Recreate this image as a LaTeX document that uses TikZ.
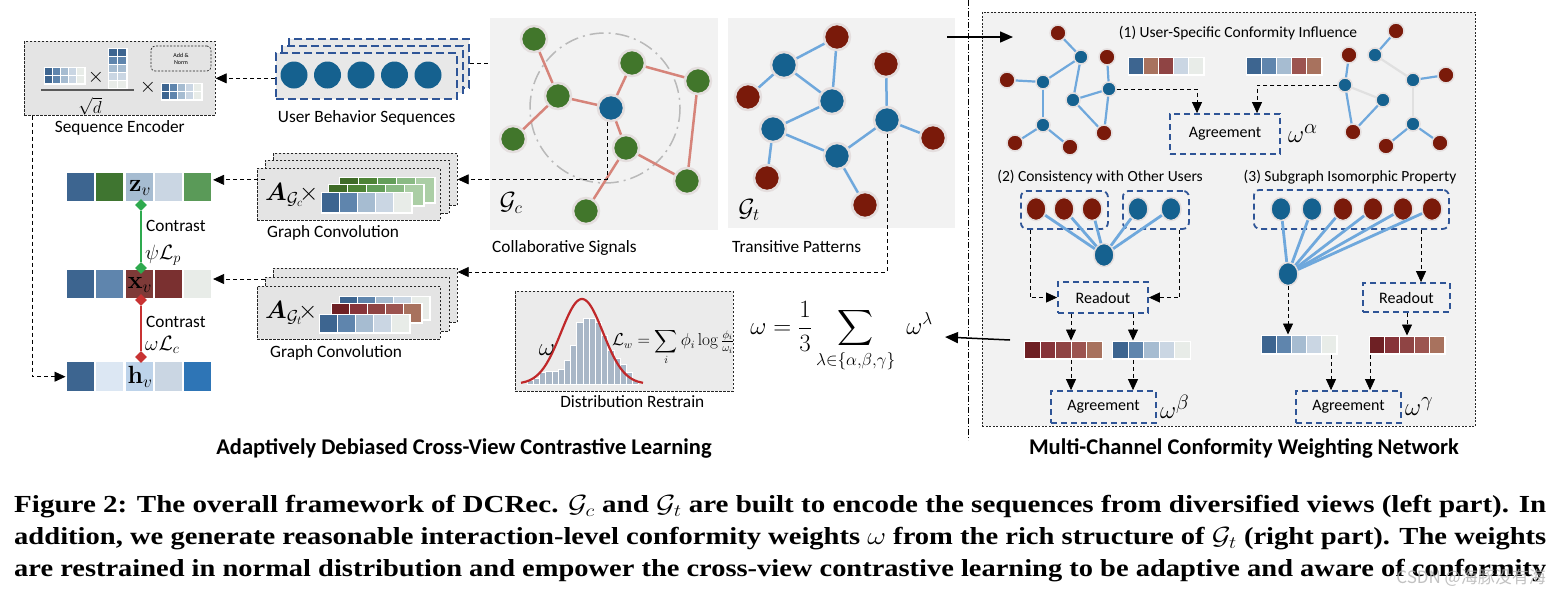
\documentclass[tikz,border=0pt]{standalone}
\usepackage{amsmath,amssymb,bm}
\usepackage[no-math]{fontspec}
\setmainfont{Carlito}
\newfontfamily\capfont{Liberation Serif}
\newfontfamily\cjkfont{Noto Sans CJK SC}
\usetikzlibrary{arrows.meta, shapes.geometric, positioning}

% colours
\definecolor{panelgray}{HTML}{F2F2F2}
\definecolor{boxgray}{HTML}{E4E4E4}
\definecolor{seqgray}{HTML}{E8E8E8}
\definecolor{nodeblue}{HTML}{15618F}
\definecolor{nodered}{HTML}{7A1A0A}
\definecolor{nodegreen}{HTML}{41762B}
\definecolor{halo}{HTML}{E4DEDE}
\definecolor{pinkedge}{HTML}{D6847A}
\definecolor{blueedge}{HTML}{6FA8DC}
\definecolor{ghostedge}{HTML}{E0E0E0}
\definecolor{boxblue}{HTML}{2F5597}
\definecolor{cA}{HTML}{3D6590}
\definecolor{cB}{HTML}{5F85AD}
\definecolor{cC}{HTML}{A6BCD1}
\definecolor{cD}{HTML}{CAD6E3}
\definecolor{cE}{HTML}{E8ECE8}
\definecolor{rA}{HTML}{6E2024}
\definecolor{rB}{HTML}{87343A}
\definecolor{rC}{HTML}{8F4444}
\definecolor{rD}{HTML}{9C5450}
\definecolor{rE}{HTML}{A8725E}
\definecolor{gA}{HTML}{3F6B27}
\definecolor{gB}{HTML}{4D8335}
\definecolor{gC}{HTML}{639E59}
\definecolor{gD}{HTML}{8ABA84}
\definecolor{gE}{HTML}{ABCEA5}
\definecolor{zG}{HTML}{3F7530}
\definecolor{zL}{HTML}{5A9A58}
\definecolor{xR}{HTML}{7E3A38}
\definecolor{xS}{HTML}{7A3030}
\definecolor{hA}{HTML}{DCE7F3}
\definecolor{hB}{HTML}{BDD3EA}
\definecolor{hC}{HTML}{2E75B6}
\definecolor{histbar}{HTML}{A9B7C7}
\definecolor{curvered}{HTML}{C0282A}
\definecolor{contrastgreen}{HTML}{2EAA4E}
\definecolor{contrastred}{HTML}{C83232}

% one row of five cells: name, x, y, cell width, cell height, gap, colours
\newcommand{\vecrow}[7]{%
  \node[fill=white, inner sep=0pt, anchor=north west,
        minimum width={5*(#4+#6)-#6+3}, minimum height={#5+3}] (#1) at ({#2-1.5},{#3-1.5}) {};
  \foreach \cc [count=\k from 0] in {#7}
    \fill[\cc] ({#2+\k*(#4+#6)},#3) rectangle ++(#4,#5);
}
% one layer of a stacked matrix: x, y, cell width, cell height, colours
\newcommand{\matlayer}[5]{%
  \fill[white] ({#1-1.5},{#2-1.5}) rectangle ({#1+5*(#3+1)+0.5},{#2+#4+1.5});
  \foreach \cc [count=\k from 0] in {#5}
    \fill[\cc] ({#1+\k*(#3+1)},#2) rectangle ++(#3,#4);
}

\tikzset{
  lbl/.style={font=\fontsize{17.3}{20}\selectfont, inner sep=0pt},
  boxlbl/.style={font=\fontsize{16}{19}\selectfont},
  sublbl/.style={font=\fontsize{15.5}{18}\selectfont, inner sep=0pt},
  boldtitle/.style={font=\bfseries\fontsize{22.5}{26}\selectfont, inner sep=0pt},
  panelbox/.style={fill=panelgray, inner sep=0pt, anchor=north west},
  blkbox/.style={fill=boxgray, draw=black!85, line width=0.7pt, dash pattern=on 2.5pt off 1.5pt, inner sep=0pt, anchor=north west},
  seqbox/.style={fill=seqgray, draw=boxblue, line width=2.4pt, dash pattern=on 8pt off 4pt, inner sep=0pt, anchor=north west},
  bluebox/.style={draw=boxblue, line width=1.8pt, dash pattern=on 6pt off 4pt, inner sep=0pt},
  grpbox/.style={bluebox, rounded corners=6pt, anchor=north west},
  dasharrow/.style={draw=black, line width=0.8pt, dash pattern=on 4pt off 3pt, -{Triangle[length=11pt,width=10pt]}},
  solidarrow/.style={draw=black, line width=1.5pt, -{Triangle[length=13pt,width=11pt]}},
  bignode/.style={circle, inner sep=0pt, minimum size=26pt, draw=halo, line width=2.5pt},
  gnode/.style={bignode, fill=nodegreen},
  bnode/.style={bignode, fill=nodeblue},
  rnode/.style={bignode, fill=nodered},
  rsmall/.style={circle, inner sep=0pt, minimum size=16pt, draw=halo, line width=1.5pt, fill=nodered},
  bsmall/.style={circle, inner sep=0pt, minimum size=14pt, draw=halo, line width=1.5pt, fill=nodeblue},
  rmid/.style={ellipse, inner sep=0pt, minimum width=20pt, minimum height=23pt, draw=halo, line width=1.5pt, fill=nodered},
  bmid/.style={ellipse, inner sep=0pt, minimum width=20pt, minimum height=23pt, draw=halo, line width=1.5pt, fill=nodeblue},
  pinkline/.style={pinkedge, line width=2.5pt},
  blueline/.style={blueedge, line width=2.5pt},
  contrastdia/.style={diamond, inner sep=0pt, minimum size=12pt},
  mathbig/.style={inner sep=0pt, font=\fontsize{24}{28}\selectfont},
  wlbl/.style={inner sep=0pt, font=\fontsize{28}{32}\selectfont},
}

\begin{document}
\begin{tikzpicture}[x=1pt, y=-1pt]
\useasboundingbox (0,0) rectangle (1560,598);
\fill[white] (0,0) rectangle (1560,598);

% Sequence encoder
\node[blkbox, minimum width=191pt, minimum height=74pt] (senc) at (24,41) {};
\fill[white] (43.5,66.5) rectangle (85.5,84.5);
\foreach \c [count=\i from 0] in {cA,cB,cC,cD,cE}
  \foreach \j in {0,1} \fill[\c] ({45+\i*8},{68+\j*8}) rectangle ++(7,7);
\node[inner sep=0pt, font=\fontsize{20}{22}\selectfont] (sx1) at (96,77) {$\times$};
\fill[white] (107.5,47.5) rectangle (127.5,90);
\foreach \c [count=\j from 0] in {cA,cB,cC,cD,cE}
  \foreach \i in {0,1} \fill[\c] ({109+\i*9},{49+\j*8}) rectangle ++(8,7);
\draw[black!65, line width=1.3pt] (41,90) -- (134,90);
\node[inner sep=0pt, font=\fontsize{19}{22}\selectfont] (sqd) at (90,106) {$\sqrt{d}$};
\node[inner sep=0pt, font=\fontsize{20}{22}\selectfont] (sx2) at (148,87) {$\times$};
\fill[white] (160.5,82.5) rectangle (202.5,100.5);
\foreach \c [count=\i from 0] in {cA,cB,cC,cD,cE}
  \foreach \j in {0,1} \fill[\c] ({162+\i*8},{84+\j*8}) rectangle ++(7,7);
\node[draw=black!85, rounded corners=4pt, dash pattern=on 2pt off 1.5pt, line width=0.7pt,
      minimum width=60pt, minimum height=25pt, inner sep=0pt, align=center,
      font=\fontsize{6}{7}\selectfont] (addnorm) at (181,58.5) {Add \&\\Norm};
\node[lbl, below=5pt of senc] (senclbl) {Sequence Encoder};

% User behavior sequences
\node[seqbox, minimum width=180pt, minimum height=49pt] (ubsback) at (288,38) {};
\node[seqbox, minimum width=181pt, minimum height=47pt] (ubsmid) at (281,45) {};
\node[seqbox, minimum width=181pt, minimum height=46pt] (ubs) at (275,52) {};
\foreach \i in {0,...,4}
  \node[circle, fill=nodeblue, minimum size=27pt, inner sep=0pt] (seq\i) at ({294+\i*33.5},75) {};
\node[lbl, below=10pt of ubs] (ubslbl) {User Behavior Sequences};
\draw[dasharrow] (ubs.west |- senc.east) -- (senc.east);
\draw[dasharrow] (ubsback.east) -- ++(47,0);

% Collaborative graph
\node[panelbox, minimum width=228pt, minimum height=212pt] (gcpanel) at (490,18) {};
\draw[gray!55, line width=1.5pt, dash pattern=on 14pt off 5pt on 2pt off 5pt] (605,108) circle[radius=75];
\node[gnode] (gn1) at (534,39) {};
\node[gnode] (gn2) at (558,96) {};
\node[gnode] (gn3) at (513,139) {};
\node[gnode] (gn4) at (632,63) {};
\node[gnode] (gn5) at (698,81) {};
\node[gnode] (gn6) at (626,148) {};
\node[gnode] (gn7) at (687,181) {};
\node[gnode] (gn8) at (586,211) {};
\node[bnode] (gcu) at (611,108) {};
\foreach \a/\b in {gn1/gn2, gn2/gn3, gn2/gcu, gcu/gn4, gn4/gn5, gn5/gn7, gcu/gn6, gn6/gn7, gn6/gn8}
  \draw[pinkline] (\a) -- (\b);
\node[inner sep=0pt, font=\fontsize{24}{28}\selectfont] (gclbl) at (511,203) {$\mathcal{G}_c$};
\node[lbl, anchor=north west] (gcname) at ([xshift=2pt, yshift=-10pt]gcpanel.south west) {Collaborative Signals};

% Transitive graph
\node[panelbox, minimum width=227pt, minimum height=210pt] (gtpanel) at (728,18) {};
\node[bnode] (tb1) at (784,65) {};
\node[bnode] (tb2) at (832,101) {};
\node[bnode] (tb3) at (773,129) {};
\node[bnode] (tb4) at (837,156) {};
\node[bnode] (tb5) at (887,120) {};
\node[rnode] (tr1) at (837,37) {};
\node[rnode] (tr2) at (748,97) {};
\node[rnode] (tr3) at (886,64) {};
\node[rnode] (tr4) at (933,138) {};
\node[rnode] (tr5) at (767,178) {};
\node[rnode] (tr6) at (865,205) {};
\foreach \a/\b in {tb1/tr1, tr1/tb2, tb1/tb2, tb1/tr2, tb2/tb3, tb3/tb4, tb3/tr5, tb4/tb5, tb4/tr6, tb5/tr3, tb5/tr4}
  \draw[blueline] (\a) -- (\b);
\node[inner sep=0pt, font=\fontsize{24}{28}\selectfont] (gtlbl) at (749,210) {$\mathcal{G}_t$};
\node[lbl, anchor=north west] (gtname) at ([xshift=4pt, yshift=-12pt]gtpanel.south west) {Transitive Patterns};

% Graph convolution stacks
\node[blkbox, minimum width=184pt, minimum height=52pt] (gcback) at (273,153) {};
\node[blkbox, minimum width=184pt, minimum height=53pt] (gcmid) at (265,160) {};
\node[blkbox, minimum width=183pt, minimum height=52pt] (gcfront) at (257,168) {};
\matlayer{340}{178}{18}{24}{gA,gB,gC,gD,gE}
\matlayer{329}{185}{18}{20}{gA,gB,gC,gD,gE}
\matlayer{322}{193}{17}{19}{cA,cB,cC,cD,cE}
\node[anchor=west, inner sep=0pt, font=\fontsize{24}{28}\selectfont] (gcA) at (265,195) {$\bm{A}_{\mathcal{G}_c}\!\times$};
\node[lbl, anchor=north west] (gcconv) at ([xshift=10pt, yshift=-5pt]gcfront.south west) {Graph Convolution};

\node[blkbox, minimum width=184pt, minimum height=54pt] (gtback) at (273,268) {};
\node[blkbox, minimum width=184pt, minimum height=54pt] (gtmid) at (265,277) {};
\node[blkbox, minimum width=183pt, minimum height=53pt] (gtfront) at (257,286) {};
\matlayer{340}{297}{17}{22}{cA,cB,cC,cD,cE}
\matlayer{332}{304}{17}{18}{rA,rB,rC,rD,rE}
\matlayer{320}{315}{17}{17}{cA,cB,cC,cD,cE}
\node[anchor=west, inner sep=0pt, font=\fontsize{24}{28}\selectfont] (gtA) at (265,313) {$\bm{A}_{\mathcal{G}_t}\!\times$};
\node[lbl, anchor=north west] (gtconv) at ([xshift=13pt, yshift=-6pt]gtfront.south west) {Graph Convolution};

\draw[dasharrow] ([xshift=-4pt]gcu.south) |- (gcback.east);
\draw[dasharrow] (tb5.south) |- ([yshift=-4pt]gtback.north east);

% Embedding rows and contrast
\vecrow{zrow}{67}{173}{27}{28}{2.3}{cA,zG,cC,cD,zL}
\vecrow{xrow}{67}{270}{27}{28}{2.3}{cA,cB,xR,xS,cE}
\vecrow{hrow}{67}{362}{27}{29}{2.3}{cA,hA,hB,cD,hC}
\node[mathbig] (zlbl) at (140,188) {$\mathbf{z}_v$};
\node[mathbig] (xlbl) at (140,285) {$\mathbf{x}_v$};
\node[mathbig] (hlbl) at (140,377) {$\mathbf{h}_v$};
\node[contrastdia, fill=contrastgreen] (zdia) at (141,205) {};
\node[contrastdia, fill=contrastgreen] (xdiag) at (141,268) {};
\node[contrastdia, fill=contrastred] (xdiar) at (141,300) {};
\node[contrastdia, fill=contrastred] (hdia) at (141,357) {};
\draw[contrastgreen, line width=2pt] (zdia) -- (xdiag);
\draw[contrastred, line width=2pt] (xdiar) -- (hdia);
\node[lbl, anchor=west] (ct1) at (146,226) {Contrast};
\node[anchor=west, inner sep=0pt, font=\fontsize{21}{24}\selectfont] (lp) at (145,255) {$\psi\mathcal{L}_p$};
\node[lbl, anchor=west] (ct2) at (146,322) {Contrast};
\node[anchor=west, inner sep=0pt, font=\fontsize{21}{24}\selectfont] (lc) at (145,345) {$\omega\mathcal{L}_c$};

\coordinate (gcin) at ([yshift=7pt]gcmid.west);
\coordinate (gtin) at ([yshift=-2pt]gtmid.north west);
\draw[dasharrow] (gcin) -- (gcin -| zrow.east);
\draw[dasharrow] (gtin) -- (gtin -| xrow.east);
\draw[dasharrow] ([xshift=8pt]senc.south west) |- (hrow.west);

% Distribution restrain
\node[blkbox, fill=boxgray!75, minimum width=218pt, minimum height=100pt] (dist) at (515,291) {};
\foreach \t [count=\i from 0] in {380,378,372,371,371,369,360,345,322,318,318,322,335,350,358,364,372,380}
  \filldraw[fill=histbar, draw=white, line width=0.4pt] ({527+\i*6.2},\t) rectangle ({527+\i*6.2+6.2},384);
\draw[curvered, line width=2.2pt, domain=521:643, samples=90]
  plot (\x, {384-85*exp(-((\x-582)/21)*((\x-582)/21)/2)});
\node[inner sep=0pt, font=\fontsize{30}{32}\selectfont] (distw) at (547,350) {$\omega$};
\node[inner sep=0pt, font=\fontsize{16}{18}\selectfont] (lw) at (673,347)
  {$\mathcal{L}_w=\displaystyle\sum_i\phi_i\log\tfrac{\phi_i}{\omega_i}$};
\node[lbl, below=4pt of dist, xshift=8pt] (distlbl) {Distribution Restrain};

% Weight average
\node[anchor=east, inner xsep=12pt, inner ysep=0pt, font=\fontsize{25}{29}\selectfont] (omega) at (945,337)
  {$\displaystyle\omega=\frac{1}{3}\sum_{\lambda\in\{\alpha,\beta,\gamma\}}\;\omega^{\lambda}$};

% Separator
\draw[black, line width=0.7pt, dash pattern=on 6pt off 2pt on 1pt off 2pt] (968,0) -- (968,440);

% Multi-channel conformity weighting network
\node[panelbox, draw=black!85, line width=0.7pt, dash pattern=on 2pt off 1.5pt,
      minimum width=493pt, minimum height=414pt] (mcpanel) at (982,12) {};
\coordinate (tpout) at (947,37);
\coordinate (mcin) at (1013,37);
\draw[solidarrow] (tpout) -- (mcin);
\coordinate (mcout) at (1010,340);
\draw[solidarrow] (mcout) -- (omega.east);

% (1) user-specific conformity influence
\node[sublbl] (h1) at (1238,33) {(1) User-Specific Conformity Influence};
\node[rsmall] (lr1) at (1058,33) {};
\node[rsmall] (lr2) at (1007,80) {};
\node[rsmall] (lr3) at (1107,57) {};
\node[rsmall] (lr4) at (1015,143) {};
\node[rsmall] (lr5) at (1070,147) {};
\node[rsmall] (lr6) at (1104,133) {};
\node[bsmall] (lb1) at (1081,57) {};
\node[bsmall] (lb2) at (1043,82) {};
\node[bsmall] (lb3) at (1073,100) {};
\node[bsmall] (lb4) at (1109,89) {};
\node[bsmall] (lb5) at (1043,125) {};
\foreach \a/\b in {lb1/lr1, lb1/lb2, lb2/lr2, lb2/lb5, lb5/lr4, lb5/lr5, lb1/lb3, lb3/lb4, lb4/lr3, lb3/lr6, lb4/lr6}
  \draw[blueedge, line width=2.2pt] (\a) -- (\b);
\node[rsmall] (or1) at (1396,31) {};
\node[rsmall] (or2) at (1349,55) {};
\node[rsmall] (or3) at (1446,75) {};
\node[rsmall] (or4) at (1353,132) {};
\node[rsmall] (or5) at (1386,146) {};
\node[rsmall] (or6) at (1440,143) {};
\node[bsmall] (ob1) at (1375,55) {};
\node[bsmall] (ob2) at (1345,85) {};
\node[bsmall] (ob3) at (1413,80) {};
\node[bsmall] (ob4) at (1383,100) {};
\node[bsmall] (ob5) at (1413,124) {};
\foreach \a/\b in {ob1/ob3, ob2/ob4, ob3/ob5}
  \draw[ghostedge, line width=2.2pt] (\a) -- (\b);
\foreach \a/\b in {ob1/or1, ob2/or2, ob2/or4, ob4/or4, ob3/or3, ob5/or5, ob5/or6}
  \draw[blueedge, line width=2.2pt] (\a) -- (\b);
\vecrow{v1a}{1129}{58}{14}{16}{1}{cA,rE,rC,cD,cE}
\vecrow{v1b}{1247}{58}{14}{16}{1}{cA,cB,cC,rD,rE}
\node[bluebox, boxlbl, minimum width=110pt, minimum height=40pt] (ag1) at (1225,134) {Agreement};
\node[wlbl, right=7pt of ag1] (wa) {$\omega^{\alpha}$};
\draw[dasharrow] (lb4.east) -| ([xshift=-28pt]ag1.north);
\draw[dasharrow] (ob2.west) -| ([xshift=32pt]ag1.north);

% (2) consistency with other users
\node[sublbl] (h2) at (1100,177) {(2) Consistency with Other Users};
\node[grpbox, minimum width=87pt, minimum height=38pt] (grpA) at (1020,190) {};
\node[grpbox, minimum width=66pt, minimum height=38pt] (grpB) at (1122,190) {};
\node[rmid] (m1) at (1036,209) {};
\node[rmid] (m2) at (1064,209) {};
\node[rmid] (m3) at (1092,209) {};
\node[bmid] (m4) at (1138,209) {};
\node[bmid] (m5) at (1171,209) {};
\node[bmid] (hub2) at (1104,255) {};
\foreach \n in {m1,m2,m3,m4,m5}
  \draw[blueedge, line width=2.8pt] (hub2) -- (\n);
\node[bluebox, boxlbl, minimum width=90pt, minimum height=31pt] (ro2) at (1103,297.5) {Readout};
\draw[dasharrow] ([xshift=10pt]grpA.south west) |- (ro2.west);
\draw[dasharrow] ([xshift=-10pt]grpB.south east) |- (ro2.east);
\vecrow{v2r}{1025}{342}{14.5}{16}{1}{rA,rB,rC,rD,rE}
\vecrow{v2b}{1113}{342}{14.5}{16}{1}{cA,cB,cC,cD,cE}
\node[bluebox, boxlbl, minimum width=105pt, minimum height=32pt] (ag2) at (1103.5,407) {Agreement};
\node[wlbl, right=3pt of ag2] (wb) {$\omega^{\beta}$};
\draw[dasharrow] (1071,0 |- ro2.south) -- (1071,0 |- v2r.north);
\draw[dasharrow] (1133,0 |- ro2.south) -- (1133,0 |- v2b.north);
\draw[dasharrow] (1071,0 |- v2r.south) -- (1071,0 |- ag2.north);
\draw[dasharrow] (1133,0 |- v2b.south) -- (1133,0 |- ag2.north);

% (3) subgraph isomorphic property
\node[sublbl] (h3) at (1350,177) {(3) Subgraph Isomorphic Property};
\node[grpbox, minimum width=195pt, minimum height=39pt] (grpC) at (1253,189) {};
\node[bmid] (s1) at (1281,209) {};
\node[bmid] (s2) at (1312,209) {};
\node[rmid] (s3) at (1343,209) {};
\node[rmid] (s4) at (1373,209) {};
\node[rmid] (s5) at (1403,209) {};
\node[rmid] (s6) at (1432,209) {};
\node[bmid] (hub3) at (1288,274) {};
\foreach \n in {s1,s2,s3,s4,s5,s6}
  \draw[blueedge, line width=2.8pt] (hub3) -- (\n);
\node[bluebox, boxlbl, minimum width=87pt, minimum height=29pt] (ro3) at (1406.5,297.5) {Readout};
\draw[dasharrow] (1421,0 |- grpC.south) -- (1421,0 |- ro3.north);
\vecrow{v3b}{1262}{336}{14}{17}{1}{cA,cB,cC,cD,cE}
\vecrow{v3r}{1370}{337}{14}{16}{1}{rA,rB,rC,rD,rE}
\node[bluebox, boxlbl, minimum width=105pt, minimum height=32pt] (ag3) at (1348.5,407) {Agreement};
\node[wlbl, right=3pt of ag3] (wg) {$\omega^{\gamma}$};
\draw[dasharrow] (hub3.south) -- (hub3.south |- v3b.north);
\draw[dasharrow] (1407,0 |- ro3.south) -- (1407,0 |- v3r.north);
\draw[dasharrow] (1331,0 |- v3b.south) -- (1331,0 |- ag3.north);
\draw[dasharrow] (1370,0 |- v3r.south) -- (1370,0 |- ag3.north);

% Part titles
\node[boldtitle] (lefttitle) at (464,448) {Adaptively Debiased Cross-View Contrastive Learning};
\node[boldtitle] (righttitle) at (1244,448) {Multi-Channel Conformity Weighting Network};

% Caption
\node[anchor=west, inner sep=0pt] (cap1) at (14,507) {\capfont\bfseries\fontsize{24.5}{28}\selectfont
  \resizebox{1532pt}{\height}{Figure 2: The overall framework of DCRec. $\mathcal{G}_c$ and $\mathcal{G}_t$ are built to encode the sequences from diversified views (left part). In}};
\node[anchor=west, inner sep=0pt] (cap2) at (14,539) {\capfont\bfseries\fontsize{24.5}{28}\selectfont
  \resizebox{1532pt}{\height}{addition, we generate reasonable interaction-level conformity weights $\omega$ from the rich structure of $\mathcal{G}_t$ (right part). The weights}};
\node[anchor=west, inner sep=0pt] (cap3) at (14,571) {\capfont\bfseries\fontsize{24.5}{28}\selectfont
  \resizebox{1532pt}{\height}{are restrained in normal distribution and empower the cross-view contrastive learning to be adaptive and aware of conformity}};
\node[anchor=east, inner sep=0pt, text=gray!60, opacity=0.8, font=\cjkfont\fontsize{17}{20}\selectfont] (wmark) at (1546,578) {CSDN @海豚没有海};
\end{tikzpicture}
\end{document}
